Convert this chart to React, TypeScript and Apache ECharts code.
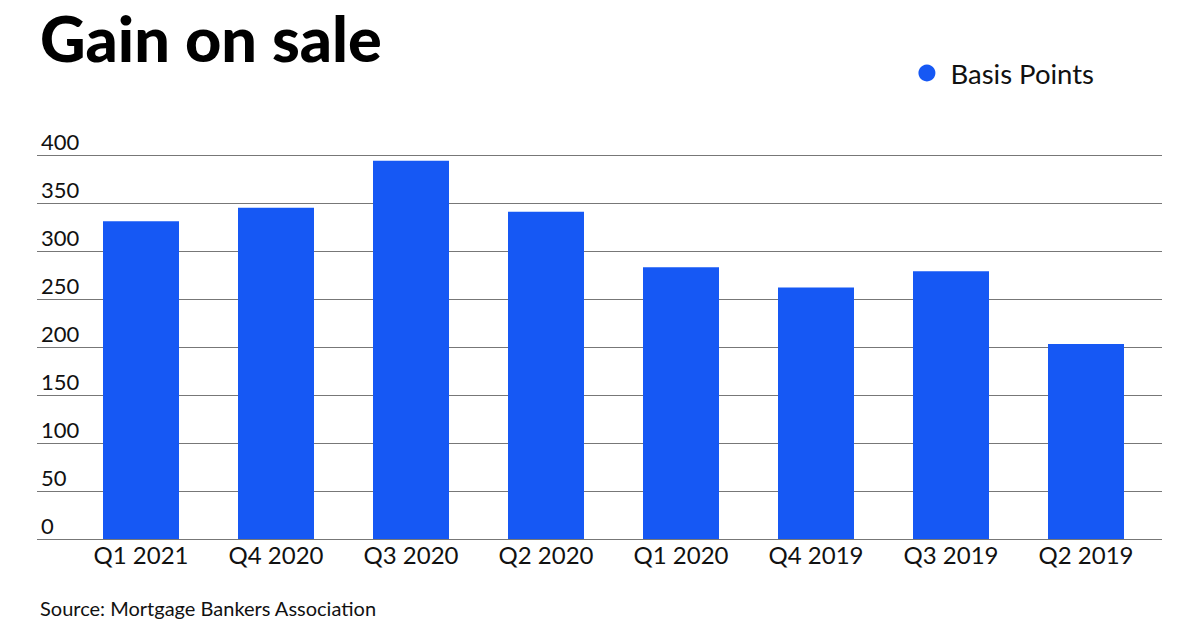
import React, { useEffect, useRef } from "react";
import * as echarts from "echarts";

const categories = ["Q1 2021", "Q4 2020", "Q3 2020", "Q2 2020", "Q1 2020", "Q4 2019", "Q3 2019", "Q2 2019"];
const basisPoints = [331, 345, 394, 341, 283, 262, 279, 203];
const seriesName = "Basis Points";
const titleText = "Gain on sale";
const sourceText = "Source: Mortgage Bankers Association";

const FONT = "Lato, 'Noto Sans', sans-serif";
const BLUE = "#1658F4";

export default function App() {
  const ref = useRef<HTMLDivElement>(null);
  useEffect(() => {
    if (!ref.current) return;
    const chart = echarts.init(ref.current, undefined, { renderer: "svg" });
    chart.setOption({
      animation: false,
      backgroundColor: "#ffffff",
      textStyle: { fontFamily: FONT },
      title: {
        text: titleText,
        left: 40,
        top: 8,
        padding: 0,
        textStyle: { fontFamily: FONT, fontSize: 63, fontWeight: 900, color: "#000", lineHeight: 58 },
      },
      legend: {
        data: [{ name: seriesName, icon: "circle" }],
        right: 101,
        top: 54,
        itemWidth: 17,
        itemHeight: 17,
        textStyle: { fontFamily: FONT, fontSize: 27.5, color: "#111", padding: [0, 0, 0, 10] },
      },
      graphic: [
        {
          type: "text",
          left: 40,
          top: 598,
          style: { text: sourceText, font: `20px ${FONT}`, fill: "#111" },
        },
      ],
      grid: [
        { left: 37, right: 38, top: 155, bottom: 91 },
        { left: 73.5, right: 46.5, top: 155, bottom: 91 },
      ],
      xAxis: [
        { type: "category", gridIndex: 0, data: categories, show: false },
        {
          type: "category",
          gridIndex: 1,
          data: categories,
          axisLine: { show: false },
          axisTick: { show: false },
          axisLabel: { fontFamily: FONT, fontSize: 24, color: "#111", margin: 3 },
        },
      ],
      yAxis: [
        {
          type: "value",
          gridIndex: 0,
          min: 0,
          max: 400,
          interval: 50,
          axisLine: { show: false },
          axisTick: { show: false },
          splitLine: { lineStyle: { color: "#777", width: 1 } },
          axisLabel: {
            inside: true,
            margin: 4,
            verticalAlign: "bottom",
            padding: [0, 0, 3, 0],
            fontFamily: FONT,
            fontSize: 22,
            color: "#111",
          },
        },
        { type: "value", gridIndex: 1, min: 0, max: 400, show: false },
      ],
      series: [
        {
          name: seriesName,
          type: "bar",
          xAxisIndex: 1,
          yAxisIndex: 1,
          data: basisPoints,
          barWidth: 76,
          itemStyle: { color: BLUE },
        },
      ],
    });
    return () => chart.dispose();
  }, []);
  return <div ref={ref} style={{ width: 1200, height: 630, margin: -8 }} />;
}
